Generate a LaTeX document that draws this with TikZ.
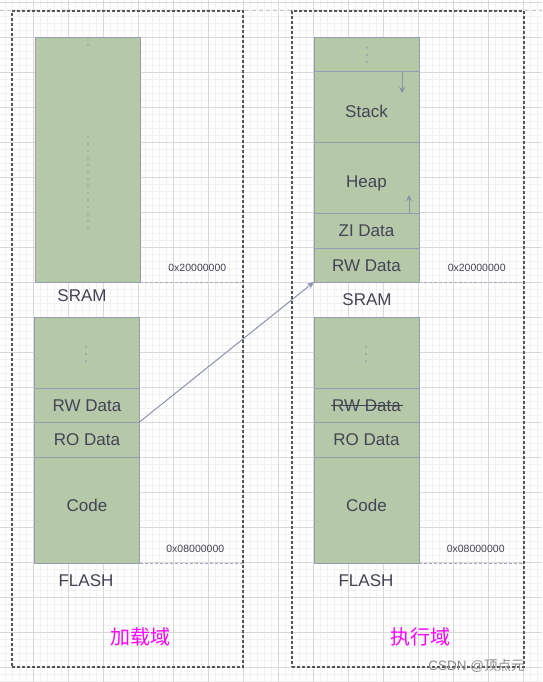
\documentclass[tikz,border=0pt]{standalone}
\usepackage{fontspec}
\setmainfont{Liberation Sans}
\newfontfamily\cjk{Noto Sans CJK SC}
\usetikzlibrary{arrows.meta,calc}
\definecolor{cellfill}{HTML}{B5C9A9}
\definecolor{cellline}{HTML}{939CB2}
\definecolor{txt}{HTML}{434355}
\definecolor{gridmajor}{HTML}{D8D8D8}
\definecolor{gridminor}{HTML}{F1F1F1}
\definecolor{boxline}{HTML}{555555}
\definecolor{addrline}{HTML}{A3AAC0}
\definecolor{arrowc}{HTML}{8A93AB}
\definecolor{magentatxt}{HTML}{FF00FF}
\definecolor{wmark}{HTML}{8C8C8C}
\begin{document}
\begin{tikzpicture}[x=1pt,y=-1pt,
  every node/.style={outer sep=0pt},
  cell/.style={draw=cellline, line width=1pt, fill=cellfill, minimum width=105pt,
    inner sep=0pt, text=txt, font=\fontsize{17}{20}\selectfont, anchor=north,
    text height=12.4pt, text depth=0pt},
  lowtext/.style={text height=20.4pt},
  hightext/.style={text height=3.4pt},
  lbl/.style={inner sep=0pt, text=txt, font=\fontsize{17}{20}\selectfont,
    text height=12.4pt, text depth=0pt},
  addr/.style={inner sep=0pt, text=txt, font=\fontsize{10.5}{12}\selectfont,
    text height=7.5pt, text depth=0pt},
  domainlbl/.style={inner sep=0pt, text=magentatxt, font=\cjk\fontsize{20}{24}\selectfont},
  outerbox/.style={draw=boxline, line width=1.1pt, dash pattern=on 3pt off 2pt,
    minimum width=231pt, minimum height=656pt, inner sep=0pt},
  addrdash/.style={draw=addrline, line width=1pt, dash pattern=on 3pt off 2pt},
  conn/.style={draw=arrowc, line width=1pt, -{Stealth[length=7pt,width=6pt]}},
  dotmark/.style={fill=arrowc},
  gminor/.style={draw=gridminor, line width=0.8pt},
  gmajor/.style={draw=gridmajor, line width=0.8pt}
]
% background and bounding box
\fill[white] (0,0) rectangle (542,682);
\useasboundingbox (0,0) rectangle (542,682);
% grid
\foreach \i in {-5,...,75} {
  \draw[gminor] ({33.5+7*\i},0) -- ({33.5+7*\i},682);
}
\foreach \i in {0,...,98} {
  \draw[gminor] (0,{2+7*\i}) -- (542,{2+7*\i});
}
\foreach \i in {-1,...,15} {
  \draw[gmajor] ({33.5+35*\i},0) -- ({33.5+35*\i},682);
}
\foreach \i in {0,...,19} {
  \draw[gmajor] (0,{2+35*\i}) -- (542,{2+35*\i});
}
\draw[draw=gridmajor!80!gray, line width=1pt, dash pattern=on 4pt off 3pt] (0,10.3) -- (542,10.3);

% outer boxes
\node[outerbox] (lbox) at (127.5,339) {};
\node[outerbox, minimum width=232pt] (rbox) at (408,339) {};

% left SRAM
\node[cell, minimum height=244.5pt] (lsram) at (87.5,37.5) {};
% left FLASH
\node[cell, minimum height=71pt] (lftop) at (87,317) {};
\node[cell, minimum height=34pt] (lfrw) at (lftop.south) {RW Data};
\node[cell, minimum height=35pt] (lfro) at (lfrw.south) {RO Data};
\node[cell, hightext, minimum height=106pt] (lfcode) at (lfro.south) {Code};

% right SRAM
\node[cell, minimum height=34.5pt] (rtop) at (366.5,37.5) {};
\node[cell, lowtext, minimum height=70pt] (rstack) at (rtop.south) {Stack};
\node[cell, lowtext, minimum height=71pt] (rheap) at (rstack.south) {Heap};
\node[cell, minimum height=35pt] (rzi) at (rheap.south) {ZI Data};
\node[cell, minimum height=34pt] (rrw) at (rzi.south) {RW Data};
% right FLASH
\node[cell, minimum height=71pt] (rftop) at (366.5,317) {};
\node[cell, minimum height=34pt] (rfrw) at (rftop.south) {RW Data};
\node[cell, minimum height=35pt] (rfro) at (rfrw.south) {RO Data};
\node[cell, hightext, minimum height=106pt] (rfcode) at (rfro.south) {Code};
% strike-through of the RW Data in execution domain
\draw[draw=txt, line width=0.9pt] ($(rfrw.center)+(-36,0)$) -- ($(rfrw.center)+(36,0)$);

% dots
\foreach \y in {38,45} \fill[dotmark] (88,\y) circle (0.9pt);
\foreach \i in {0,...,13} \fill[dotmark] (88,{137+7*\i}) circle (0.9pt);
\foreach \y in {48,55,62} \fill[dotmark] (367,\y) circle (0.9pt);
\foreach \y in {347,354,361} {
  \fill[dotmark] (86,\y) circle (0.9pt);
  \fill[dotmark] (366,\y) circle (0.9pt);
}

% stack / heap growth arrows
\coordinate (sa) at ($(rstack.north east)+(-17,0)$);
\coordinate (sb) at ($(sa)+(0,21)$);
\draw[conn, -{Stealth[length=6pt,width=6pt]}] (sa) -- (sb);
\coordinate (ha) at ($(rheap.south east)+(-10,0)$);
\coordinate (hb) at ($(ha)+(0,-18)$);
\draw[conn, -{Stealth[length=6pt,width=6pt]}] (ha) -- (hb);

% address dashed lines
\draw[addrdash] (lsram.south east) -- (lsram.south east -| lbox.east);
\draw[addrdash] (lfcode.south east) -- (lfcode.south east -| lbox.east);
\draw[addrdash] (rrw.south east) -- (rrw.south east -| rbox.east);
\draw[addrdash] (rfcode.south east) -- (rfcode.south east -| rbox.east);

% address labels
\node[addr] (la20) at (197.3,267.3) {0x20000000};
\node[addr] (la08) at (195.3,548.7) {0x08000000};
\node[addr] (ra20) at (476.7,267.5) {0x20000000};
\node[addr] (ra08) at (475.7,549) {0x08000000};

% memory labels
\node[lbl] (lsramlbl) at (82,295.5) {SRAM};
\node[lbl] (lflashlbl) at (86,580.5) {FLASH};
\node[lbl] (rsramlbl) at (367,299.5) {SRAM};
\node[lbl] (rflashlbl) at (366,580.5) {FLASH};

% domain labels
\node[domainlbl] (ldom) at (140.5,637) {加载域};
\node[domainlbl] (rdom) at (420.5,637) {执行域};

% main connector: RW data copied from FLASH to SRAM
\draw[conn] (lfrw.south east) -- (rrw.south west);

% watermark
\node[inner sep=0pt, text=wmark, font=\fontsize{13.5}{16}\selectfont] (wm) at (476.5,665.5) {CSDN @{\cjk 顶点元}};
\end{tikzpicture}
\end{document}
